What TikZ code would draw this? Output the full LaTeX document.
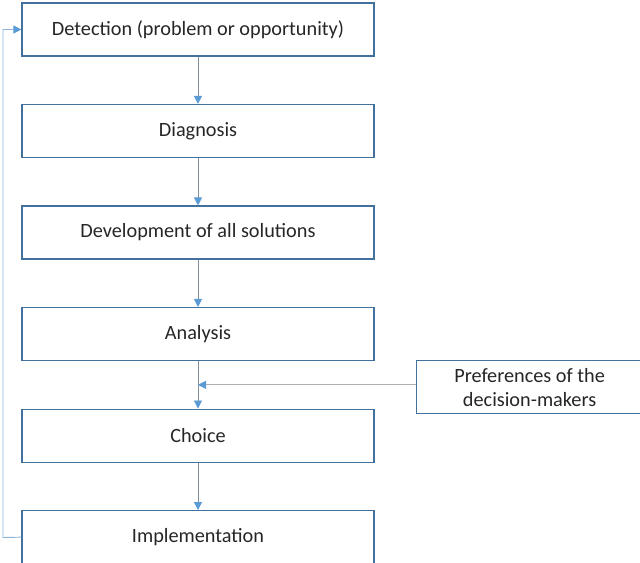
\documentclass[tikz,border=0pt]{standalone}
\usepackage{fontspec}
\setmainfont{Carlito}
\usetikzlibrary{arrows.meta}
\usetikzlibrary{positioning}
\usetikzlibrary{calc}
\definecolor{boxline}{RGB}{65,113,156}
\definecolor{flowline}{RGB}{128,142,160}
\definecolor{tipblue}{RGB}{91,155,213}
\definecolor{backline}{RGB}{140,180,220}
\definecolor{sideline}{RGB}{175,175,175}
\newcommand{\StepWidth}{264pt}
\newcommand{\StepHeight}{39.75pt}
\newcommand{\StepGap}{35.5pt}
\tikzset{
  stepbox/.style = {draw=boxline, line width=0.9pt, minimum width=\StepWidth,
    minimum height=\StepHeight, inner sep=0pt, text=black!85,
    font=\fontsize{15.2}{18}\selectfont},
  flow/.style = {draw=flowline, line width=0.7pt, -{Triangle[length=6pt,width=6pt,color=tipblue]}},
}

\begin{document}
\begin{tikzpicture}[x=0.75pt,y=-0.75pt]
\useasboundingbox (0,0) rectangle (640,563);
\clip (0,0) rectangle (640,563);

% main chain of steps
\node[stepbox] (detect) at (198,29.5) {Detection (problem or opportunity)};
\node[stepbox, below=\StepGap of detect] (diag) {Diagnosis};
\node[stepbox, below=\StepGap of diag] (devel) {Development of all solutions};
\node[stepbox, below=\StepGap of devel] (anal) {Analysis};
\node[stepbox, below=\StepGap of anal] (choice) {Choice};
\node[stepbox, below=\StepGap of choice] (impl) {Implementation};

% side input
\node[stepbox, minimum width=169.5pt, align=center, anchor=north west] (pref) at (416,360)
  {Preferences of the\\decision-makers};

\draw[flow] (detect) -- (diag);
\draw[flow] (diag) -- (devel);
\draw[flow] (devel) -- (anal);
\draw[flow] (anal) -- (choice);

\coordinate (join) at ($(anal.south)!0.5!(choice.north)$);
\draw[flow, draw=sideline] (pref.west |- join) -- (join);

\draw[flow] (choice) -- (impl);

% feedback loop
\coordinate (back) at (3,537.5);
\draw[flow, draw=backline] (impl.west) -- (back) |- (detect.west);
\end{tikzpicture}
\end{document}
